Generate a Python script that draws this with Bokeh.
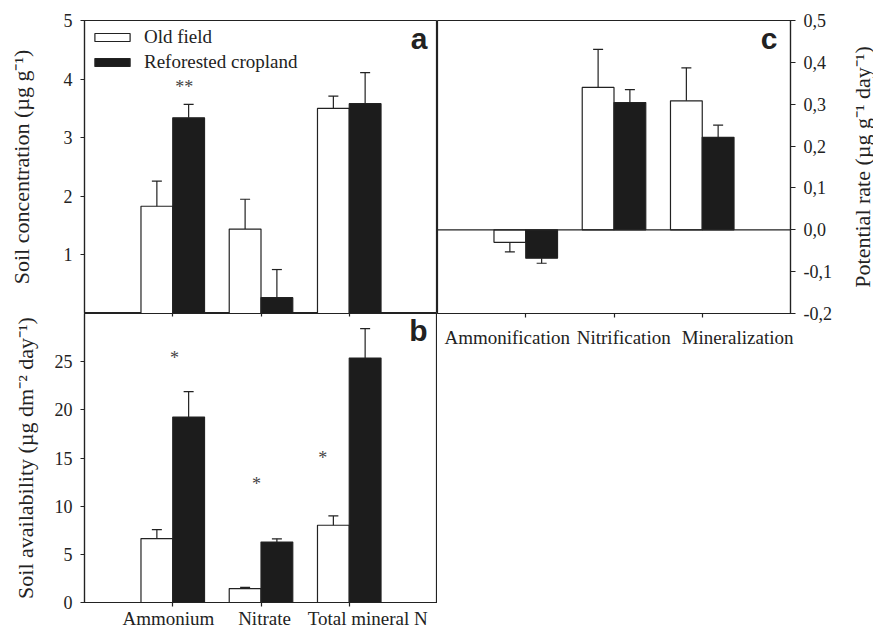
import numpy as np
from bokeh.plotting import figure
from bokeh.models import (ColumnDataSource, FixedTicker, LinearAxis, Range1d, Whisker,
                          TeeHead, Span, Label, Legend, LegendItem, CustomJSTickFormatter)
from bokeh.layouts import row, column
from bokeh.embed import file_html
from bokeh.resources import INLINE
from bokeh.core.properties import value

# ---------------- data ----------------
series = ["Old field", "Reforested cropland"]

conc_categories = ["Ammonium", "Nitrate", "Total mineral N"]
conc_label_pos = [0.95, 2.04, 3.21]
rate_categories = ["Ammonification", "Nitrification", "Mineralization"]
rate_label_pos = [0.79, 2.11, 3.40]

# panel a: soil concentration (ug g-1)
a_old = [1.83, 1.44, 3.50]
a_old_err = [0.43, 0.51, 0.21]
a_ref = [3.34, 0.27, 3.58]
a_ref_err = [0.23, 0.48, 0.53]
a_ticks = [1, 2, 3, 4, 5]
a_sig_x = [1.13]
a_sig_y = [3.89]
a_sig_text = ["**"]

# panel b: soil availability (ug dm-2 day-1)
b_old = [6.64, 1.45, 8.02]
b_old_err = [0.93, 0.13, 0.97]
b_ref = [19.25, 6.27, 25.38]
b_ref_err = [2.65, 0.34, 3.06]
b_ticks = [0, 5, 10, 15, 20, 25]
b_sig_x = [1.02, 1.95, 2.70]
b_sig_y = [25.6, 12.5, 15.2]
b_sig_text = ["*", "*", "*"]

# panel c: potential rate (ug g-1 day-1)
c_old = [-0.030, 0.340, 0.308]
c_old_err = [0.023, 0.091, 0.079]
c_ref = [-0.068, 0.304, 0.221]
c_ref_err = [0.012, 0.031, 0.029]
c_ticks = [-0.2, -0.1, 0.0, 0.1, 0.2, 0.3, 0.4, 0.5]

# ---------------- style ----------------
SERIF = "Liberation Serif"
SANS = "Liberation Sans"
EDGE = "#222222"
DARK = "#1c1c1c"
LW = 1.2
W = 0.36
OFF = 0.18
cat_x = [1.0, 2.0, 3.0]


def style_axis(ax, tick_out=4):
    ax.axis_line_color = EDGE
    ax.axis_line_width = LW
    ax.major_tick_line_color = EDGE
    ax.major_tick_line_width = LW
    ax.major_tick_out = tick_out
    ax.major_tick_in = 0
    ax.minor_tick_line_color = None
    ax.major_label_text_font = SERIF
    ax.major_label_text_font_size = "18px"
    ax.major_label_text_color = "#222222"
    ax.axis_label_text_font = SERIF
    ax.axis_label_text_font_size = "22px"
    ax.axis_label_text_font_style = "normal"
    ax.axis_label_text_color = "#222222"


def base_fig(**kw):
    p = figure(output_backend="svg", toolbar_location=None, x_range=Range1d(0, 4), **kw)
    p.grid.grid_line_color = None
    p.outline_line_color = EDGE
    p.outline_line_width = LW
    p.background_fill_color = "white"
    p.border_fill_color = "white"
    return p


def bars(p, vals, errs, offset, fill):
    x = np.array(cat_x) + offset
    v = np.array(vals, dtype=float)
    e = np.array(errs, dtype=float)
    src = ColumnDataSource(dict(x=x, top=v))
    r = p.vbar(x="x", top="top", bottom=0, width=W, source=src,
               fill_color=fill, line_color=EDGE, line_width=LW)
    tip = v + np.sign(v) * e
    pos = v >= 0
    if pos.any():
        s = ColumnDataSource(dict(x=x[pos], lo=v[pos], hi=tip[pos]))
        p.add_layout(Whisker(source=s, base="x", lower="lo", upper="hi", dimension="height",
                             lower_head=None,
                             upper_head=TeeHead(size=10, line_color=EDGE, line_width=LW),
                             line_color=EDGE, line_width=LW, level="annotation"))
    neg = ~pos
    if neg.any():
        s = ColumnDataSource(dict(x=x[neg], lo=tip[neg], hi=v[neg]))
        p.add_layout(Whisker(source=s, base="x", lower="lo", upper="hi", dimension="height",
                             upper_head=None,
                             lower_head=TeeHead(size=10, line_color=EDGE, line_width=LW),
                             line_color=EDGE, line_width=LW, level="annotation"))
    return r


def cat_axis(label_pos, names, standoff, tick_in=0, tick_out=4):
    # labels sit on major ticks (no marks); category tick marks are minor ticks
    ax = LinearAxis(ticker=FixedTicker(ticks=label_pos, minor_ticks=cat_x))
    style_axis(ax, 0)
    ax.major_tick_line_color = None
    ax.minor_tick_line_color = EDGE
    ax.minor_tick_line_width = LW
    ax.minor_tick_out = tick_out
    ax.minor_tick_in = tick_in
    ax.axis_label_standoff = 0
    if names:
        ax.major_label_overrides = {float(k): n for k, n in zip(label_pos, names)}
    ax.major_label_text_font_size = "19px"
    ax.major_label_standoff = standoff
    return ax


def panel_letter(p, x, y, text, dx, dy):
    p.add_layout(Label(x=x, y=y, x_offset=dx, y_offset=dy, text=text, text_align="right",
                       text_baseline="top", text_font=SANS, text_font_style="bold",
                       text_font_size="30px", text_color="#222222"))


# ---------------- panel a ----------------
pa = base_fig(width=437, height=313, y_range=Range1d(0, 5), x_axis_location=None,
              min_border_left=84, min_border_right=0, min_border_top=20, min_border_bottom=0)
ra_old = bars(pa, a_old, a_old_err, -OFF, "white")
ra_ref = bars(pa, a_ref, a_ref_err, OFF, DARK)
pa.yaxis.ticker = FixedTicker(ticks=a_ticks)
style_axis(pa.yaxis[0])
pa.yaxis.major_label_standoff = 8
pa.yaxis.axis_label = "Soil concentration (µg g⁻¹)"
pa.yaxis.axis_label_standoff = 27
pa.text(x=a_sig_x, y=a_sig_y, text=a_sig_text, text_font=value(SERIF), text_font_size="18px",
        text_align="center", text_baseline="middle", text_color="#444444", y_offset=1)
legend = Legend(items=[LegendItem(label=series[0], renderers=[ra_old]),
                       LegendItem(label=series[1], renderers=[ra_ref])],
                location="top_left", margin=6, padding=6, spacing=3,
                glyph_width=44, glyph_height=10, label_standoff=10,
                label_text_font=SERIF, label_text_font_size="19px", label_text_color="#222222",
                border_line_color=None, background_fill_alpha=0)
pa.add_layout(legend)
panel_letter(pa, 4, 5, "a", -10, -1)

# ---------------- panel b ----------------
pb = base_fig(width=437, height=318, y_range=Range1d(0, 30), x_axis_location=None,
              min_border_left=84, min_border_right=0, min_border_top=0, min_border_bottom=28)
bars(pb, b_old, b_old_err, -OFF, "white")
bars(pb, b_ref, b_ref_err, OFF, DARK)
pb.yaxis.ticker = FixedTicker(ticks=b_ticks)
style_axis(pb.yaxis[0])
pb.yaxis.major_label_standoff = 8
pb.yaxis.axis_label = "Soil availability (µg dm⁻² day⁻¹)"
pb.yaxis.axis_label_standoff = 14
pb.add_layout(cat_axis([], [], 0, tick_in=3, tick_out=0), "above")
pb.add_layout(cat_axis(conc_label_pos, conc_categories, 1), "below")
pb.text(x=b_sig_x, y=b_sig_y, text=b_sig_text, text_font=value(SERIF), text_font_size="18px",
        text_align="center", text_baseline="middle", text_color="#444444", y_offset=2)
panel_letter(pb, 4, 30, "b", -10, 0)

# ---------------- panel c ----------------
pc = base_fig(width=403, height=353, y_range=Range1d(-0.2, 0.5), x_axis_location=None,
              y_axis_location="right",
              min_border_left=0, min_border_right=50, min_border_top=20, min_border_bottom=40)
pc.add_layout(Span(location=0, dimension="width", line_color=EDGE, line_width=LW))
bars(pc, c_old, c_old_err, -OFF, "white")
bars(pc, c_ref, c_ref_err, OFF, DARK)
pc.yaxis.ticker = FixedTicker(ticks=c_ticks)
style_axis(pc.yaxis[0], 5)
pc.yaxis.major_label_standoff = 8
pc.yaxis.formatter = CustomJSTickFormatter(code="return tick.toFixed(1).replace('.', ',');")
pc.add_layout(cat_axis(rate_label_pos, rate_categories, 9), "below")
panel_letter(pc, 4, 0.5, "c", -13, -1)

# axis title of panel c (reads bottom-to-top, as in the original)
pl = figure(width=33, height=353, x_range=Range1d(0, 1), y_range=Range1d(-0.2, 0.5),
            x_axis_location=None, output_backend="svg", toolbar_location=None,
            min_border_left=32, min_border_right=0, min_border_top=20, min_border_bottom=40)
pl.grid.grid_line_color = None
pl.outline_line_color = None
pl.background_fill_color = "white"
pl.border_fill_color = "white"
pl.yaxis.ticker = FixedTicker(ticks=[])
style_axis(pl.yaxis[0], 0)
pl.yaxis.axis_line_color = None
pl.yaxis.major_label_standoff = 0
pl.yaxis.axis_label = "Potential rate (µg g⁻¹ day⁻¹)"
pl.yaxis.axis_label_standoff = -2

layout = row(column(pa, pb), pc, pl)
open("out.html", "w").write(file_html(layout, INLINE))
